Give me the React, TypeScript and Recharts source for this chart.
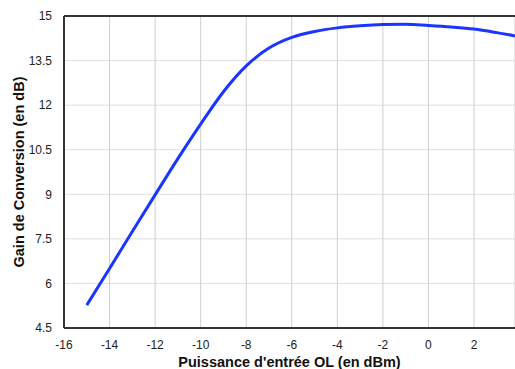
import React from "react";
import {
  LineChart,
  Line,
  XAxis,
  YAxis,
  CartesianGrid,
  ReferenceLine,
  Label,
} from "recharts";

// Input LO power (dBm) and conversion gain (dB)
const puissanceOL = [-15, -14, -13, -12, -11, -10, -9, -8, -7, -6, -5, -4, -3, -2, -1, 0, 1, 2, 3, 3.8];
const gainConversion = [
  5.27, 6.5, 7.75, 8.98, 10.2, 11.36, 12.45, 13.32, 13.92, 14.28,
  14.48, 14.6, 14.67, 14.71, 14.72, 14.68, 14.63, 14.56, 14.44, 14.33,
];

const xTicks = [-16, -14, -12, -10, -8, -6, -4, -2, 0, 2];
const yTicks = [4.5, 6, 7.5, 9, 10.5, 12, 13.5, 15];

const data = puissanceOL.map((x, i) => ({ x, gain: gainConversion[i] }));

const FONT = "'Liberation Sans', Arial, sans-serif";

export default function App() {
  return (
    <div style={{ position: "absolute", left: 0, top: 0, fontFamily: FONT }}>
      <LineChart
        width={515}
        height={369}
        data={data}
        margin={{ top: 16, right: 0, bottom: 0, left: 0 }}
      >
        <CartesianGrid stroke="#e0e0e0" vertical={false} />
        <CartesianGrid stroke="#cfcfcf" horizontal={false} />
        <XAxis
          type="number"
          dataKey="x"
          domain={[-16, 3.8]}
          ticks={xTicks}
          allowDataOverflow
          height={41}
          stroke="#333"
          strokeWidth={2}
          tickLine={false}
          tickMargin={6}
          tick={{ fontSize: 12, fill: "#222", fontFamily: FONT }}
        >
          <Label
            value="Puissance d'entrée OL (en dBm)"
            position="insideBottom"
            offset={2}
            style={{ fontSize: 14.5, fontWeight: "bold", fill: "#111", fontFamily: FONT }}
          />
        </XAxis>
        <YAxis
          type="number"
          domain={[4.5, 15]}
          ticks={yTicks}
          allowDataOverflow
          width={64}
          stroke="#333"
          strokeWidth={2}
          tickLine={false}
          tickMargin={6}
          tick={{ fontSize: 12, fill: "#222", fontFamily: FONT }}
        >
          <Label
            value="Gain de Conversion (en dB)"
            angle={-90}
            position="insideLeft"
            offset={19}
            style={{
              fontSize: 14.5,
              fontWeight: "bold",
              fill: "#111",
              fontFamily: FONT,
              textAnchor: "middle",
            }}
          />
        </YAxis>
        <ReferenceLine y={15} stroke="#333" strokeWidth={2} />
        <Line
          type="monotone"
          dataKey="gain"
          stroke="#1a35ff"
          strokeWidth={3}
          dot={false}
          isAnimationActive={false}
        />
      </LineChart>
    </div>
  );
}
